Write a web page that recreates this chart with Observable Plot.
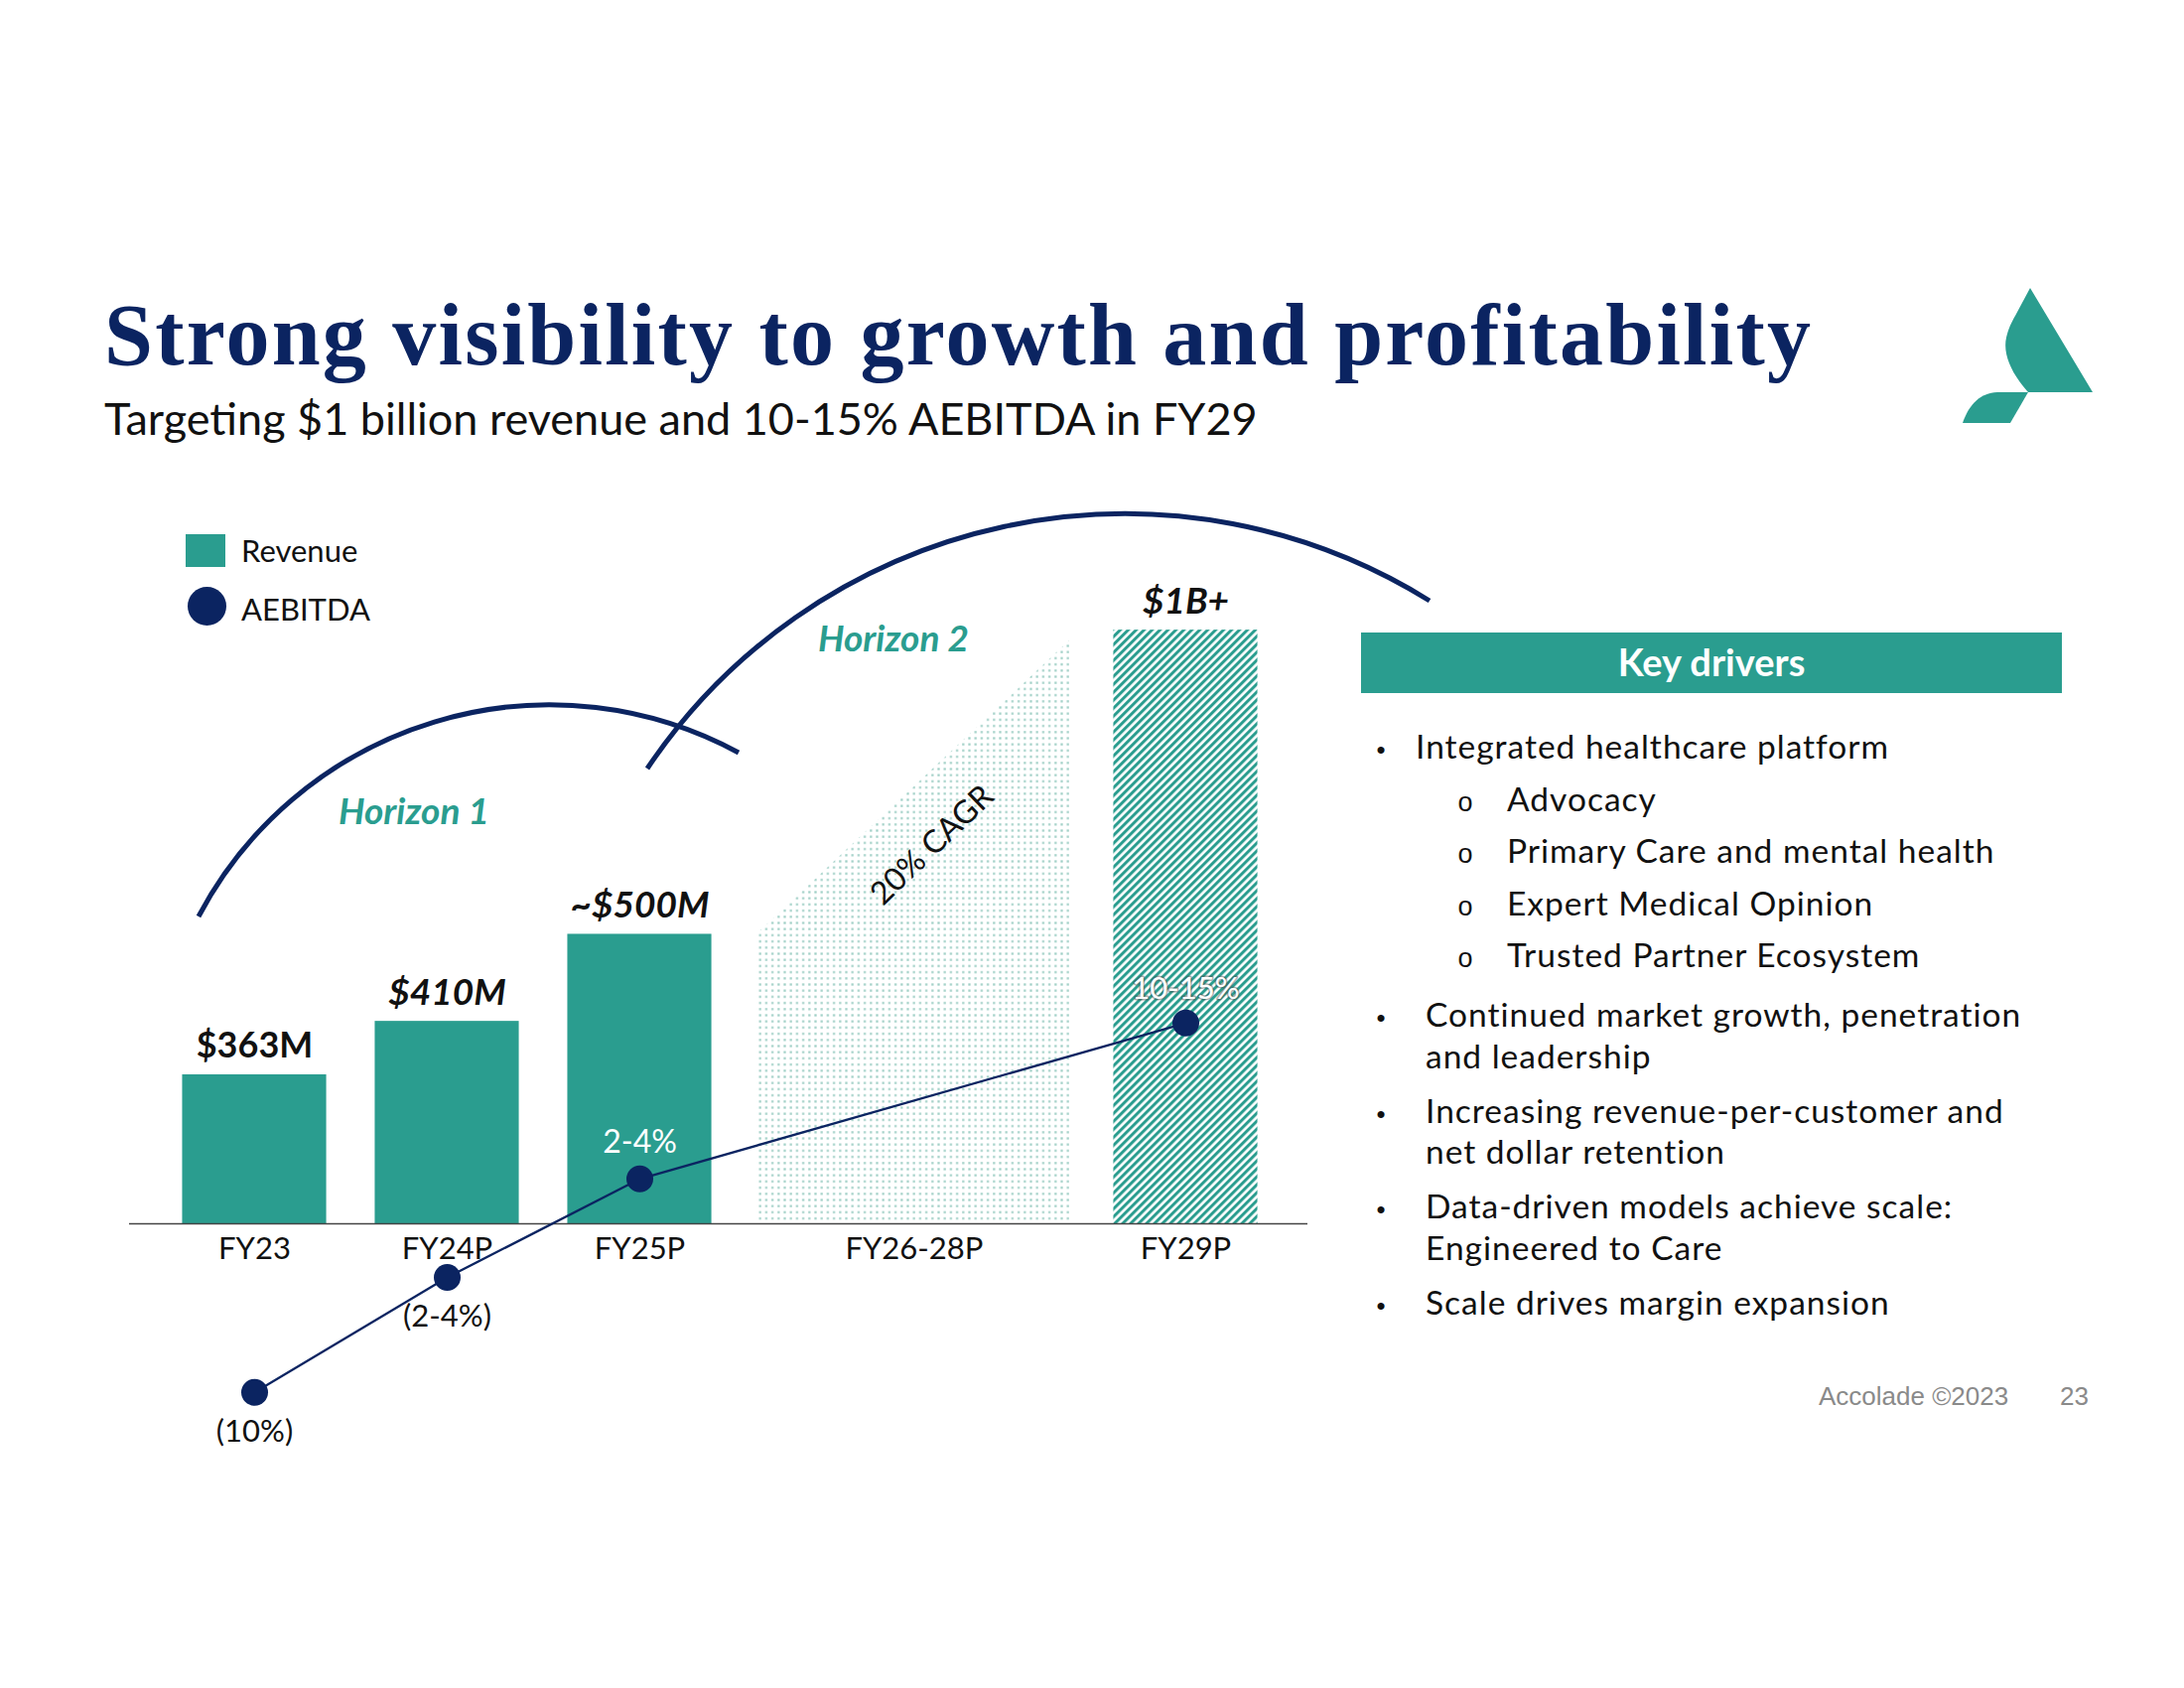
<!DOCTYPE html>
<html>
<head>
<meta charset="utf-8">
<script src="https://cdn.jsdelivr.net/npm/d3@7"></script>
<script src="https://cdn.jsdelivr.net/npm/@observablehq/plot@0.6"></script>
<style>
  html, body { margin: 0; padding: 0; background: #fff; }
  #page { position: relative; width: 2200px; height: 1700px; overflow: hidden; background: #fff; font-family: Lato, sans-serif; }
  #deco { position: absolute; left: 0; top: 0; }
  .chart { position: absolute; left: 0; top: 480px; width: 1400px; height: 1000px; }
  .chart svg { overflow: visible; }
</style>
</head>
<body>
<div id="page">
  <svg id="deco" width="2200" height="1700" xmlns="http://www.w3.org/2000/svg">
    <defs>
      <pattern id="hatch" patternUnits="userSpaceOnUse" width="5.66" height="5.66" patternTransform="rotate(45)">
        <rect x="0" y="0" width="5.66" height="5.66" fill="#ffffff"></rect>
        <rect x="0" y="0" width="3" height="5.66" fill="#2a9d8f"></rect>
      </pattern>
      <pattern id="dots" patternUnits="userSpaceOnUse" width="6.2" height="6.2">
        <rect x="2" y="2" width="2.2" height="2.2" fill="#9fcfc6"></rect>
      </pattern>
    </defs>
  </svg>
  <div id="chartA" class="chart"></div>
  <div id="chartB" class="chart"></div>
</div>
<script>
// ---------------- data ----------------
const categories    = ["FY23", "FY24P", "FY25P", "FY26-28P", "FY29P"];
const revenue       = [363, 410, 500, null, 1000];          // $M
const revenueLabels = ["$363M", "$410M", "~$500M", null, "$1B+"];
const cagrPath      = [500, 980];                            // FY26-28P growth band start / end ($M)
const cagrLabel     = "20% CAGR";
const aebitda       = [-10, -3, 3, null, 12.5];              // % margin (range midpoints)
const aebitdaLabels = ["(10%)", "(2-4%)", "2-4%", null, "10-15%"];
const legendItems   = ["Revenue", "AEBITDA"];
const horizons      = ["Horizon 1", "Horizon 2"];
const title         = "Strong visibility to growth and profitability";
const subtitle      = "Targeting $1 billion revenue and 10-15% AEBITDA in FY29";
const keyDriversTitle = "Key drivers";
const keyDrivers = [
  {level: 0, lines: ["Integrated healthcare platform"]},
  {level: 1, lines: ["Advocacy"]},
  {level: 1, lines: ["Primary Care and mental health"]},
  {level: 1, lines: ["Expert Medical Opinion"]},
  {level: 1, lines: ["Trusted Partner Ecosystem"]},
  {level: 0, lines: ["Continued market growth, penetration", "and leadership"]},
  {level: 0, lines: ["Increasing revenue-per-customer and", "net dollar retention"]},
  {level: 0, lines: ["Data-driven models achieve scale:", "Engineered to Care"]},
  {level: 0, lines: ["Scale drives margin expansion"]}
];
const footer = ["Accolade ©2023", "23"];

// ---------------- layout / style ----------------
const slotCenter = [0, 1, 2, 3.425, 4.835];   // category centre along the axis (in slot units)
const slotHalf   = [0.374, 0.374, 0.374, 0.817, 0.374];
const TEAL = "#2a9d8f", NAVY = "#0b2461", INK = "#111111";
const yBase = 258.5;                          // revenue value at the baseline (log axis)

const rows = categories.map((category, i) => ({
  category,
  slot: slotCenter[i],
  x1: slotCenter[i] - slotHalf[i],
  x2: slotCenter[i] + slotHalf[i],
  revenue: revenue[i],
  revenueLabel: revenueLabels[i],
  aebitda: aebitda[i],
  aebitdaLabel: aebitdaLabels[i],
  actual: !category.endsWith("P")
}));
const bars = rows.filter(d => d.revenue != null);
const cagrRow = rows.find(d => d.category === "FY26-28P");
const cagrArea = [{x: cagrRow.x1, v: cagrPath[0]}, {x: cagrRow.x2, v: cagrPath[1]}];
const ebit = rows.filter(d => d.aebitda != null);

const common = {
  width: 1400, height: 1000,
  marginLeft: 130, marginRight: 83,
  x: {domain: [-0.6495, 5.469], axis: null},
  style: {background: "transparent", overflow: "visible", fontFamily: "Lato"}
};

const chartA = Plot.plot({
  ...common,
  marginTop: 112, marginBottom: 248,
  y: {type: "log", domain: [yBase, 1100], axis: null},
  marks: [
    Plot.area(cagrArea, {x1: "x", y1: () => yBase, y2: "v", fill: "url(#dots)"}),
    Plot.rect(bars.filter(d => d.category !== "FY29P"), {x1: "x1", x2: "x2", y1: () => yBase, y2: "revenue", fill: TEAL}),
    Plot.rect(bars.filter(d => d.category === "FY29P"), {x1: "x1", x2: "x2", y1: () => yBase, y2: "revenue", fill: "url(#hatch)"}),
    Plot.ruleY([yBase], {stroke: "#444", strokeWidth: 1.5}),
    Plot.text(bars.filter(d => d.actual), {x: "slot", y: "revenue", text: "revenueLabel", dy: -17, lineAnchor: "bottom",
      fontSize: 36, fontWeight: 700, fontFamily: "Lato", fill: INK}),
    Plot.text(bars.filter(d => !d.actual), {x: "slot", y: "revenue", text: "revenueLabel", dy: -17, lineAnchor: "bottom",
      fontSize: 37, fontWeight: 700, fontStyle: "italic", fontFamily: "Lato", fill: INK}),
    Plot.text(rows, {x: "slot", y: () => yBase, text: "category", dy: 35, lineAnchor: "bottom",
      fontSize: 31, fontFamily: "Lato", fill: INK, letterSpacing: 0.6}),
    Plot.text([cagrRow], {x: "slot", y: () => Math.sqrt(cagrPath[0] * cagrPath[1]), text: () => cagrLabel,
      rotate: -43.8, dx: 18, dy: 59, fontSize: 32, fontFamily: "Lato", fill: INK})
  ]
});
document.getElementById("chartA").appendChild(chartA);

const chartB = Plot.plot({
  ...common,
  marginTop: 425.8, marginBottom: 12.2,
  y: {domain: [-14, 20], axis: null},
  marks: [
    Plot.line(ebit, {x: "slot", y: "aebitda", stroke: NAVY, strokeWidth: 2.3}),
    Plot.dot(ebit, {x: "slot", y: "aebitda", r: 13.5, fill: NAVY}),
    Plot.text(ebit.filter(d => d.aebitda < 0), {x: "slot", y: "aebitda", text: "aebitdaLabel", dy: 50, lineAnchor: "bottom",
      fontSize: 31, fontFamily: "Lato", fill: INK, letterSpacing: 0.5}),
    Plot.text(ebit.filter(d => d.aebitda >= 0 && d.category !== "FY29P"), {x: "slot", y: "aebitda", text: "aebitdaLabel", dy: -26, lineAnchor: "bottom",
      fontSize: 32, fontFamily: "Lato", fill: "#ffffff", letterSpacing: 0.5}),
    Plot.text(ebit.filter(d => d.category === "FY29P"), {x: "slot", y: "aebitda", text: "aebitdaLabel", dy: -24, lineAnchor: "bottom",
      fontSize: 31, fontFamily: "Lato", fill: "#ffffff", stroke: "rgba(70,70,70,0.45)", strokeWidth: 3, paintOrder: "stroke"})
  ]
});
document.getElementById("chartB").appendChild(chartB);

// ---------------- slide decoration ----------------
const deco = d3.select("#deco");

deco.append("text").attr("x", 105).attr("y", 367)
  .attr("font-family", "Liberation Serif, serif").attr("font-weight", 700).attr("font-size", 88)
  .attr("textLength", 1719).attr("lengthAdjust", "spacing")
  .attr("fill", NAVY).text(title);
deco.append("text").attr("x", 105).attr("y", 438)
  .attr("font-family", "Lato").attr("font-size", 45).attr("fill", INK).text(subtitle);

// logo
deco.append("path").attr("fill", TEAL)
  .attr("d", "M2045 290 L2108 395 L2043 395 C2028 378 2017 358 2021 340 C2023 331 2026 325 2030 318 Z");
deco.append("path").attr("fill", TEAL)
  .attr("d", "M2043 395 L2025 426 L1977 426 C1984 406 1995 396 2012 395 Z");

// legend
deco.append("rect").attr("x", 187).attr("y", 538).attr("width", 40).attr("height", 33).attr("fill", TEAL);
deco.append("circle").attr("cx", 208.5).attr("cy", 610.5).attr("r", 19.5).attr("fill", NAVY);
deco.selectAll("text.legend").data(legendItems).join("text").attr("class", "legend")
  .attr("x", 243).attr("y", (d, i) => 566 + i * 59)
  .attr("font-family", "Lato").attr("font-size", 31).attr("fill", INK).text(d => d);

// horizon arcs + labels
deco.append("path").attr("fill", "none").attr("stroke", NAVY).attr("stroke-width", 5)
  .attr("d", "M200 923 A400 400 0 0 1 744 758");
deco.append("path").attr("fill", "none").attr("stroke", NAVY).attr("stroke-width", 5)
  .attr("d", "M652 774 A580 580 0 0 1 1440 605");
deco.selectAll("text.horizon").data(horizons).join("text").attr("class", "horizon")
  .attr("x", (d, i) => i ? 900 : 417).attr("y", (d, i) => i ? 656 : 830)
  .attr("text-anchor", "middle").attr("font-family", "Lato").attr("font-weight", 700).attr("font-style", "italic")
  .attr("font-size", 37).attr("fill", TEAL).text(d => d);

// key drivers panel
deco.append("rect").attr("x", 1371).attr("y", 637).attr("width", 706).attr("height", 61).attr("fill", TEAL);
deco.append("text").attr("x", 1724).attr("y", 681).attr("text-anchor", "middle")
  .attr("font-family", "Lato").attr("font-weight", 700).attr("font-size", 38).attr("fill", "#fff").text(keyDriversTitle);

const driverFont = 33.5, driverLine = 41.5;
let yy = 764;
keyDrivers.forEach((item, i) => {
  const textX = item.level ? 1518 : (i === 0 ? 1426 : 1436);
  if (item.level === 0) {
    deco.append("text").attr("x", 1391).attr("y", yy).attr("text-anchor", "middle")
      .attr("font-family", "Liberation Sans").attr("font-size", 26).attr("fill", INK).text("•");
  } else {
    deco.append("text").attr("x", 1476).attr("y", yy).attr("text-anchor", "middle")
      .attr("font-family", "Liberation Sans").attr("font-size", 27).attr("fill", INK).text("o");
  }
  const t = deco.append("text").attr("x", textX).attr("y", yy)
    .attr("font-family", "Lato").attr("font-size", driverFont).attr("letter-spacing", 1.0).attr("fill", INK);
  item.lines.forEach((line, k) => {
    t.append("tspan").attr("x", textX).attr("dy", k ? driverLine : 0).text(line);
  });
  const next = keyDrivers[i + 1];
  yy += (item.lines.length - 1) * 36.5 + (next && next.level === 1 ? 52.5 : 60);
});

// footer
deco.append("text").attr("x", 1832).attr("y", 1415).attr("font-family", "Liberation Sans").attr("font-size", 26)
  .attr("fill", "#8a8a8a").text(footer[0]);
deco.append("text").attr("x", 2075).attr("y", 1415).attr("font-family", "Liberation Sans").attr("font-size", 26)
  .attr("fill", "#8a8a8a").text(footer[1]);
</script>
</body>
</html>
